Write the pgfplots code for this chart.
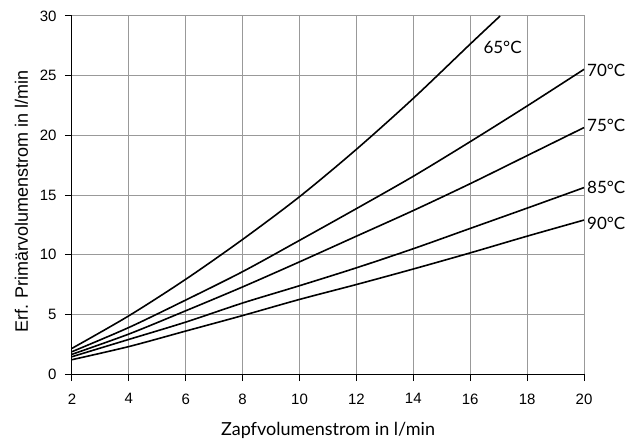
\documentclass[border=0pt]{standalone}
\usepackage{fontspec}
\setmainfont{Liberation Sans}
\newfontfamily\lato{Lato}
\usepackage{pgfplots}
\pgfplotsset{compat=1.18}
\begin{document}
\begin{tikzpicture}
\begin{axis}[
  scale only axis, width=512pt, height=358pt,
  xmin=2, xmax=20, ymin=0, ymax=30,
  xtick={2,4,...,20}, ytick={0,5,...,30},
  axis x line*=bottom, axis y line*=left,
  axis line style={black, line width=1pt},
  grid=major, major grid style={color=black!40, line width=1pt},
  tick align=outside, major tick length=7pt,
  tick style={black, line width=1pt},
  /pgf/number format/assume math mode=true,
  ticklabel style={font=\fontsize{15}{17}\selectfont},
  xticklabel style={anchor=north, yshift=-9pt},
  yticklabel style={anchor=east, xshift=-5pt},
  xlabel={\lato\fontsize{18}{20}\selectfont Zapfvolumenstrom in l/min},
  ylabel={\fontsize{18}{20}\selectfont Erf. Primärvolumenstrom in l/min},
  xlabel style={at={([yshift=-61pt]axis description cs:0.5,0)}, anchor=base, inner sep=0pt},
  ylabel style={at={([xshift=-44pt]axis description cs:0,0.482)}, anchor=base, inner sep=0pt},
  clip=false,
]
\coordinate (sw) at (rel axis cs:0,0);
\coordinate (ne) at (rel axis cs:1,1);
\draw[black!40, line width=1pt] (rel axis cs:0,1) -- (rel axis cs:1,1) -- (rel axis cs:1,0);
% 65
\addplot[black, line width=1.6pt, smooth] coordinates {(2,2.15)(4,4.88)(6,7.94)(8,11.28)(10,14.86)(12,18.83)(14,23.1)(16,27.65)(17.05,30)};
% 70
\addplot[black, line width=1.6pt, smooth] coordinates {(2,1.87)(4,3.9)(6,6.2)(8,8.58)(10,11.2)(12,13.86)(14,16.57)(16,19.47)(18,22.46)(20,25.53)};
% 75
\addplot[black, line width=1.6pt, smooth] coordinates {(2,1.65)(4,3.35)(6,5.3)(8,7.3)(10,9.4)(12,11.55)(14,13.7)(16,15.95)(18,18.3)(20,20.65)};
% 85
\addplot[black, line width=1.6pt, smooth] coordinates {(2,1.45)(4,2.9)(6,4.35)(8,5.95)(10,7.4)(12,8.9)(14,10.5)(16,12.2)(18,13.9)(20,15.62)};
% 90
\addplot[black, line width=1.6pt, smooth] coordinates {(2,1.2)(4,2.3)(6,3.6)(8,4.9)(10,6.25)(12,7.5)(14,8.8)(16,10.15)(18,11.55)(20,12.9)};
\begin{scope}[every node/.style={font=\lato\fontsize{17}{19}\selectfont, inner sep=0pt, anchor=base west}]
\node at (axis cs:16.46,26.88) {65°C};
\node at ([xshift=3pt]axis cs:20,24.92) {70°C};
\node at ([xshift=3pt]axis cs:20,20.31) {75°C};
\node at ([xshift=3pt]axis cs:20,15.15) {85°C};
\node at ([xshift=3pt]axis cs:20,12.07) {90°C};
\end{scope}
\end{axis}
\pgfresetboundingbox
\path ([shift={(-72pt,-65pt)}]sw) rectangle ([shift={(57pt,16pt)}]ne);
\end{tikzpicture}
\end{document}
